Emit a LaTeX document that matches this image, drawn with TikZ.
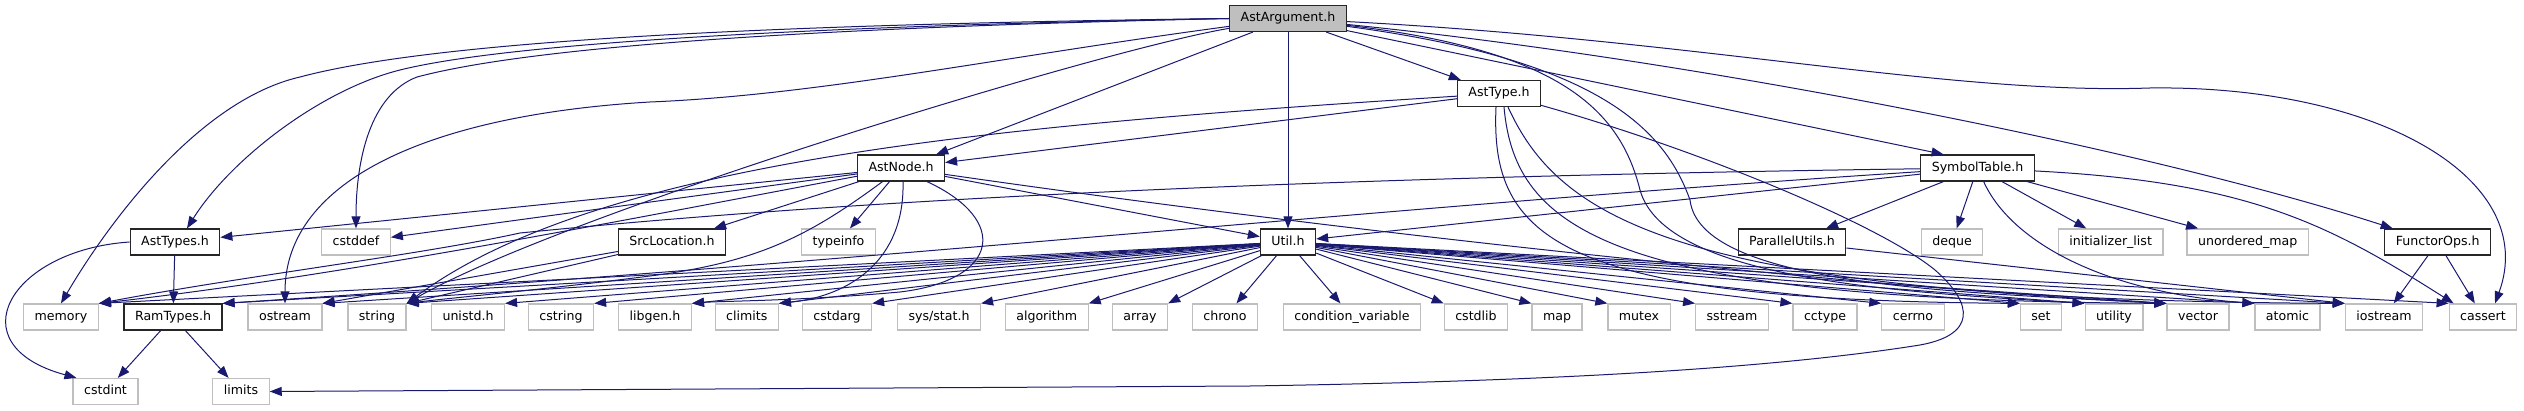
\documentclass[tikz,border=0pt]{standalone}
\usepackage{fontspec}
\setmainfont{DejaVu Sans}
\usetikzlibrary{arrows.meta}
\definecolor{edgeblue}{HTML}{191970}
\definecolor{grey75}{HTML}{BFBFBF}
\begin{document}
\begin{tikzpicture}[x=1pt,y=-1pt,
        hdr/.style={draw,font=\fontsize{12.6}{15}\selectfont,inner xsep=11pt,inner ysep=0pt,minimum height=26pt,text height=9.3pt,text depth=2.7pt,fill=white,line width=1.2pt},
        proj/.style={hdr,draw=black!85},
        sys/.style={hdr,draw=grey75},
        mainhdr/.style={hdr,draw=black!85,fill=grey75},
        inc/.style={draw=edgeblue,line width=1pt,-{Triangle[length=12pt,width=9pt]}}]
        \useasboundingbox (0,0) rectangle (2524,411);
        \draw (1288,18.5) node[mainhdr] (arg) {AstArgument.h};
        \draw (1499,93.5) node[proj] (asttype) {AstType.h};
        \draw (901,168) node[proj] (astnode) {AstNode.h};
        \draw (1977.5,168) node[proj] (symtab) {SymbolTable.h};
        \draw (175,242) node[proj] (asttypes) {AstTypes.h};
        \draw (356,242) node[sys] (cstddef) {cstddef};
        \draw (672,242) node[proj] (srcloc) {SrcLocation.h};
        \draw (838.5,242) node[sys] (typeinfo) {typeinfo};
        \draw (1288,242) node[proj] (util) {Util.h};
        \draw (1792,242) node[proj] (parallel) {ParallelUtils.h};
        \draw (1952,242) node[sys] (deque) {deque};
        \draw (2110.7,242) node[sys] (initlist) {initializer\_list};
        \draw (2247.7,242) node[sys] (umap) {unordered\_map};
        \draw (2437.7,242) node[proj] (functor) {FunctorOps.h};
        \draw (61,317) node[sys] (memory) {memory};
        \draw (173,317) node[proj] (ramtypes) {RamTypes.h};
        \draw (285,317) node[sys] (ostream) {ostream};
        \draw (377,317) node[sys] (string) {string};
        \draw (468,317) node[sys] (unistd) {unistd.h};
        \draw (561,317) node[sys] (cstring) {cstring};
        \draw (655,317) node[sys] (libgen) {libgen.h};
        \draw (746.7,317) node[sys] (climits) {climits};
        \draw (837,317) node[sys] (cstdarg) {cstdarg};
        \draw (939,317) node[sys] (sysstat) {sys/stat.h};
        \draw (1046.7,317) node[sys] (algorithm) {algorithm};
        \draw (1140,317) node[sys] (array) {array};
        \draw (1225,317) node[sys] (chrono) {chrono};
        \draw (1352,317) node[sys] (condvar) {condition\_variable};
        \draw (1476,317) node[sys] (cstdlib) {cstdlib};
        \draw (1557,317) node[sys] (map) {map};
        \draw (1639,317) node[sys] (mutex) {mutex};
        \draw (1732,317) node[sys] (sstream) {sstream};
        \draw (1825,317) node[sys] (cctype) {cctype};
        \draw (1913,317) node[sys] (cerrno) {cerrno};
        \draw (2041,317) node[sys] (set) {set};
        \draw (2114,317) node[sys] (utility) {utility};
        \draw (2198,317) node[sys] (vector) {vector};
        \draw (2287.5,317) node[sys] (atomic) {atomic};
        \draw (2384,317) node[sys] (iostream) {iostream};
        \draw (2483,317) node[sys] (cassert) {cassert};
        \draw (105.5,391.5) node[sys] (cstdint) {cstdint};
        \draw (241,391.5) node[sys] (limits) {limits};
        \draw[inc] (arg.west) .. controls (700,25) and (420,45) .. (300,77) .. controls (200,100) and (110,220) .. (memory.north);
        \draw[inc] (arg.west) .. controls (700,28) and (480,50) .. (400,70) .. controls (320,90) and (230,160) .. ([xshift=12pt]asttypes.north);
        \draw[inc] (arg.west) .. controls (700,30) and (500,55) .. (417,77) .. controls (370,95) and (356,160) .. (cstddef.north);
        \draw[inc] (arg) .. controls (1000,57) and (820,95) .. (650,102) .. controls (430,115) and (285,180) .. (ostream.north);
        \draw[inc] (arg) .. controls (1100,50) and (560,215) .. (string.north east);
        \draw[inc] (arg) -- (astnode);
        \draw[inc] (arg) -- (util);
        \draw[inc] (arg) -- (asttype);
        \draw[inc] (arg) -- ([xshift=-34pt]symtab.north);
        \draw[inc] (arg) .. controls (1700,60) and (2150,150) .. ([xshift=-45pt]functor.north);
        \draw[inc] (arg) .. controls (1700,40) and (1950,95) .. (2150,88) .. controls (2380,85) and (2540,180) .. ([xshift=12pt]cassert.north);
        \draw[inc] (arg) .. controls (1560,50) and (1620,110) .. (1640,190) .. controls (1665,280) and (1900,292) .. (utility.north west);
        \draw[inc] (arg) .. controls (1600,60) and (1665,130) .. (1690,200) .. controls (1700,285) and (1950,292) .. (vector.north west);
        \draw[inc] (asttype) -- (astnode);
        \draw[inc] (asttype) .. controls (1000,125) and (600,160) .. (string.north east);
        \draw[inc] ([xshift=-3pt]asttype.south) .. controls (1490,240) and (1560,300) .. (set.north west);
        \draw[inc] ([xshift=5pt]asttype.south) .. controls (1515,230) and (1610,300) .. (vector.north west);
        \draw[inc] ([xshift=9pt]asttype.south) .. controls (1560,220) and (1680,300) .. (iostream.north west);
        \draw[inc] (asttype) .. controls (1700,150) and (1880,225) .. (1935,270) .. controls (1975,305) and (1975,335) .. (1920,345) .. controls (1750,372) and (1500,382) .. (1250,386) -- (limits.east);
        \draw[inc] (astnode) -- (asttypes);
        \draw[inc] (astnode) -- (cstddef);
        \draw[inc] (astnode) .. controls (650,215) and (350,275) .. (memory.north east);
        \draw[inc] (astnode) -- (srcloc);
        \draw[inc] (astnode) .. controls (810,235) and (760,262) .. (650,276) .. controls (540,290) and (450,298) .. (string.north east);
        \draw[inc] (astnode) -- (typeinfo);
        \draw[inc] ([xshift=2pt]astnode.south) .. controls (905,260) and (850,296) .. (climits.north east);
        \draw[inc] ([xshift=26pt]astnode.south) .. controls (1010,220) and (1000,280) .. (900,292) .. controls (800,301) and (720,301) .. (libgen.north east);
        \draw[inc] (astnode) -- (util);
        \draw[inc] (astnode) .. controls (1400,240) and (1900,290) .. (vector.north west);
        \draw[inc] (symtab) -- (parallel);
        \draw[inc] (symtab) -- (deque);
        \draw[inc] (symtab) -- (initlist);
        \draw[inc] (symtab) -- (umap);
        \draw[inc] (symtab) .. controls (2250,182) and (2330,225) .. ([xshift=5pt]cassert.north west);
        \draw[inc] (symtab) -- (util);
        \draw[inc] (symtab) .. controls (1100,180) and (700,215) .. (520,233) .. controls (420,255) and (250,275) .. (memory.north east);
        \draw[inc] (symtab) .. controls (1400,205) and (900,260) .. (ramtypes.north east);
        \draw[inc] (symtab) .. controls (2010,240) and (2100,292) .. (atomic.north west);
        \draw[inc] (parallel) -- (iostream.north west);
        \draw[inc] (functor) -- (iostream);
        \draw[inc] (functor) -- (cassert);
        \draw[inc] (srcloc) -- (string.north east);
        \draw[inc] (srcloc) -- (ostream.north east);
        \draw[inc] (asttypes) -- (ramtypes);
        \draw[inc] (asttypes.west) .. controls (10,250) and (-45,345) .. ([xshift=4pt]cstdint.north west);
        \draw[inc] (ramtypes) -- (cstdint);
        \draw[inc] (ramtypes) -- (limits);
        \draw[inc] (util) -- (memory.north east);
        \draw[inc] (util) -- (ramtypes.north east);
        \draw[inc] (util) -- (ostream.north east);
        \draw[inc] (util) -- (string.north east);
        \draw[inc] (util) -- (unistd.north east);
        \draw[inc] (util) -- (cstring.north east);
        \draw[inc] (util) -- (libgen.north east);
        \draw[inc] (util) -- (climits.north east);
        \draw[inc] (util) -- (cstdarg.north east);
        \draw[inc] (util) -- (sysstat.north east);
        \draw[inc] (util) -- (algorithm.north east);
        \draw[inc] (util) -- (array.north east);
        \draw[inc] (util) -- (chrono);
        \draw[inc] (util) -- (condvar);
        \draw[inc] (util) -- (cstdlib.north west);
        \draw[inc] (util) -- (map.north west);
        \draw[inc] (util) -- (mutex.north west);
        \draw[inc] (util) -- (sstream.north west);
        \draw[inc] (util) -- (cctype.north west);
        \draw[inc] (util) -- (cerrno.north west);
        \draw[inc] (util) -- (set.north west);
        \draw[inc] (util) -- (utility.north west);
        \draw[inc] (util) -- (vector.north west);
        \draw[inc] (util) -- (atomic.north west);
        \draw[inc] (util) -- (iostream.north west);
        \draw[inc] (util) -- (cassert.north west);
        \end{tikzpicture}
\end{document}
